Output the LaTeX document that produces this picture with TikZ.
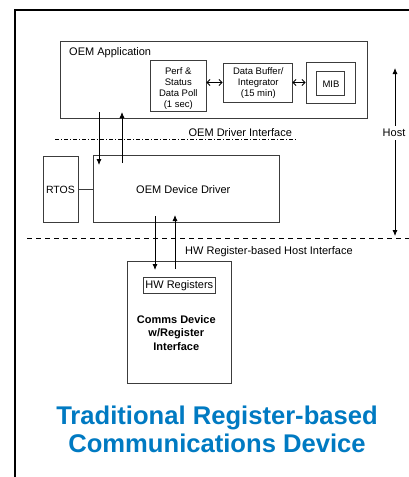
\documentclass[tikz,border=0pt]{standalone}
\usepackage{fontspec}
\setmainfont{Liberation Sans}
\usetikzlibrary{arrows.meta}
\definecolor{titleblue}{RGB}{0,122,194}
\definecolor{boxgray}{RGB}{60,60,60}
\begin{document}
\begin{tikzpicture}[x=1pt,y=-1pt,
  box/.style={draw=boxgray,line width=0.9pt,inner sep=0pt,rectangle},
  txt/.style={inner sep=0pt,font=\fontsize{11}{13}\selectfont},
  small/.style={inner sep=0pt,align=center,font=\fontsize{9.5}{11}\selectfont},
  arr/.style={line width=0.8pt,-{Latex[length=6pt,width=5pt]}},
  dbl/.style={line width=0.8pt,{Straight Barb[length=3pt,width=6pt]}-{Straight Barb[length=3pt,width=6pt]}},
  wire/.style={line width=0.8pt}]
\useasboundingbox (0,0) rectangle (409,477);
\fill[white] (0,0) rectangle (409,477);
% outer frame
\draw[line width=2.5pt] (15,477) -- (15,10) -- (409,10);
% boxes
\node[box,minimum width=307pt,minimum height=77pt] (app) at (213.5,79.5) {};
\node[box,minimum width=56pt,minimum height=51pt] (perf) at (178,85.5) {};
\node[box,minimum width=69pt,minimum height=39pt] (buf) at (257.5,82.5) {};
\node[box,minimum width=49pt,minimum height=41pt] (mibo) at (330.5,82.5) {};
\node[box,minimum width=28pt,minimum height=24pt] (mibi) at (330,83) {};
\node[box,minimum width=186pt,minimum height=67pt] (drv) at (186,188.5) {};
\node[box,minimum width=35pt,minimum height=66pt] (rtos) at (60.5,189) {};
\node[box,minimum width=104pt,minimum height=122pt] (dev) at (179,322) {};
\node[box,minimum width=72pt,minimum height=16pt] (hwr) at (179,285) {};
% texts
\node[txt,anchor=base west] (tapp) at (69,55) {OEM Application};
\node[small] (tperf) at (178.3,88.5) {Perf \&\\Status\\Data Poll\\(1 sec)};
\node[small] (tbuf) at (258.3,83.5) {Data Buffer/\\Integrator\\(15 min)};
\node[small,anchor=base] (tmib) at (331,87.3) {MIB};
\node[txt,anchor=base] (tdi) at (240.3,136.5) {OEM Driver Interface};
\node[txt,anchor=base,inner sep=3pt] (host) at (394,136.7) {Host};
\node[txt,anchor=base] (tdrv) at (183.3,193) {OEM Device Driver};
\node[txt,anchor=base,font=\fontsize{10.5}{12}\selectfont] (trtos) at (60.5,193) {RTOS};
\node[txt,anchor=base west] (thw) at (185,254.3) {HW Register-based Host Interface};
\node[txt,anchor=base] (thwr) at (179.3,288.5) {HW Registers};
\node[inner sep=0pt,align=center,font=\fontsize{11}{13.3}\selectfont\bfseries] (tdev) at (176.3,333) {Comms Device\\w/Register\\Interface};
\node[inner sep=0pt,align=center,text=titleblue,font=\fontsize{25.6}{28.7}\selectfont\bfseries] (title) at (217,429.2) {Traditional Register-based\\Communications Device};
% double arrows
\draw[dbl] (perf.east |- buf.west) -- (buf.west);
\draw[dbl] (buf.east) -- (buf.east -| mibo.west);
% RTOS link
\draw[wire,draw=boxgray] (rtos.east) -- (rtos.east -| drv.west);
% interface lines
\draw[line width=0.8pt,dash pattern=on 4pt off 2pt on 1pt off 2pt] (55,139) -- (297,139);
\draw[line width=0.8pt,dash pattern=on 5pt off 4pt] (27,238) -- (409,238);
% app <-> driver
\coordinate (d1s) at (99,112);
\coordinate (d1e) at (99,165);
\coordinate (u1s) at (122,163);
\coordinate (u1e) at (122,112);
\draw[arr] (d1s) -- (d1e);
\draw[arr] (u1s) -- (u1e);
% driver <-> device
\coordinate (d2s) at (155,216);
\coordinate (d2e) at (155,270);
\coordinate (u2s) at (175,269);
\coordinate (u2e) at (175,215);
\draw[arr] (d2s) -- (d2e);
\draw[arr] (u2s) -- (u2e);
% host arrow
\coordinate (hostTop) at (395,68);
\coordinate (hostBot) at (395,236);
\draw[arr] (hostTop |- host.north) -- (hostTop);
\draw[arr] (hostBot |- host.south) -- (hostBot);
\end{tikzpicture}
\end{document}
